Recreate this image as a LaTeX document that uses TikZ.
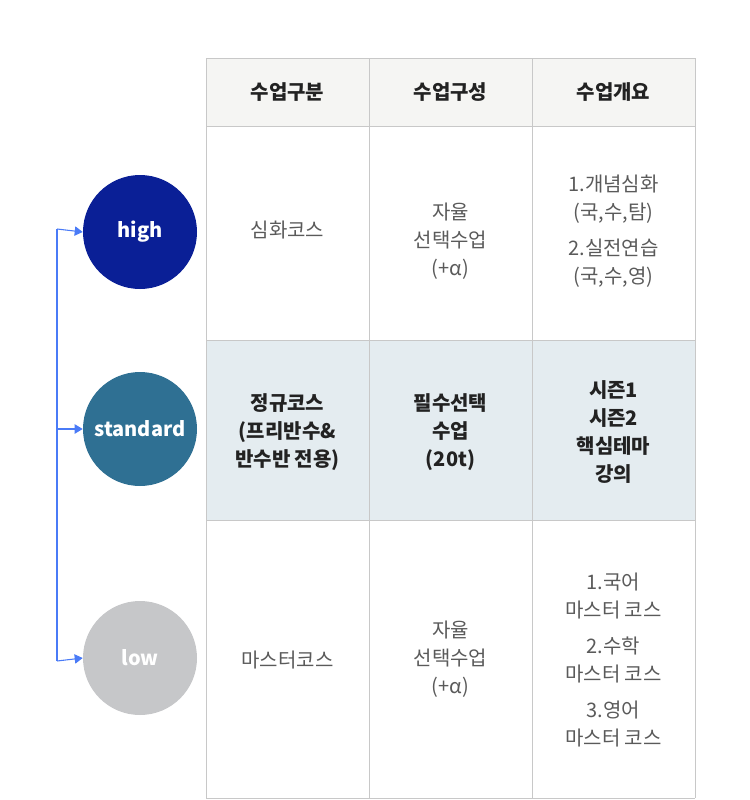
\documentclass[tikz,border=0pt]{standalone}
\usepackage{fontspec}
\setmainfont{Noto Sans CJK KR}
\usepackage{xcolor}
\usetikzlibrary{arrows.meta}

\definecolor{gridgray}{HTML}{C8C8C8}
\definecolor{headbg}{HTML}{F5F5F3}
\definecolor{stdbg}{HTML}{E4ECF0}
\definecolor{highblue}{HTML}{0A1F96}
\definecolor{stdteal}{HTML}{2F7093}
\definecolor{lowgray}{HTML}{C6C7C9}
\definecolor{linkblue}{HTML}{4A7BF7}
\definecolor{bodytext}{HTML}{5A5A5A}
\definecolor{darktext}{HTML}{222222}

\tikzset{
  cell/.style={align=center, font=\fontsize{15}{21}\selectfont, text=bodytext},
  boldcell/.style={cell, text=darktext, font=\fontsize{15}{21}\selectfont\bfseries},
  level/.style={circle, minimum size=85.5pt, inner sep=0pt, text=white,
    font=\fontsize{15}{18}\selectfont\bfseries},
}

\begin{document}
\begin{tikzpicture}[x=0.75pt,y=-0.75pt]
        \useasboundingbox (0,0) rectangle (750,800);

        % backgrounds
        \fill[headbg] (206,58) rectangle (695,126);
        \fill[stdbg] (206,340) rectangle (695,520);

        % grid
        \foreach \x in {206,369,532,695}
            \draw[gridgray] (\x,58) -- (\x,798);
        \foreach \y in {58,126,340,520,798}
            \draw[gridgray] (206,\y) -- (695,\y);

        % header
        \node[boldcell] (h1) at (287.5,92) {수업구분};
        \node[boldcell] (h2) at (450.5,92) {수업구성};
        \node[boldcell] (h3) at (613.5,92) {수업개요};

        % high row
        \node[cell] (a1) at (287.5,230) {심화코스};
        \node[cell] (a2) at (450.5,241) {자율\\선택수업\\(+α)};
        \node[cell] (a3) at (613.5,231) {1.개념심화\\(국,수,탐)\\[6pt]2.실전연습\\(국,수,영)};

        % standard row
        \node[boldcell] (b1) at (287.5,432) {정규코스\\(프리반수\&\\반수반 전용)};
        \node[boldcell] (b2) at (450.5,432) {필수선택\\수업\\(20t)};
        \node[boldcell] (b3) at (613.5,432) {시즌1\\시즌2\\핵심테마\\강의};

        % low row
        \node[cell] (c1) at (287.5,660) {마스터코스};
        \node[cell] (c2) at (450.5,659) {자율\\선택수업\\(+α)};
        \node[cell] (c3) at (613.5,660) {1.국어\\마스터 코스\\[6pt]2.수학\\마스터 코스\\[6pt]3.영어\\마스터 코스};

        % levels
        \node[level, fill=highblue] (high) at (140,232) {high};
        \node[level, fill=stdteal] (standard) at (140,429) {standard};
        \node[level, fill=lowgray] (low) at (140,658) {low};

        % connector
        \coordinate (top) at (57,229);
        \coordinate (mid) at (57,429);
        \coordinate (bot) at (57,661);
        \draw[linkblue, thick] (top) -- (bot);
        \draw[linkblue, thick, -{Triangle[length=6pt,width=7pt]}] (top) -- (high.west);
        \draw[linkblue, thick, -{Triangle[length=6pt,width=7pt]}] (mid) -- (standard.west);
        \draw[linkblue, thick, -{Triangle[length=6pt,width=7pt]}] (bot) -- (low.west);
    \end{tikzpicture}
\end{document}
